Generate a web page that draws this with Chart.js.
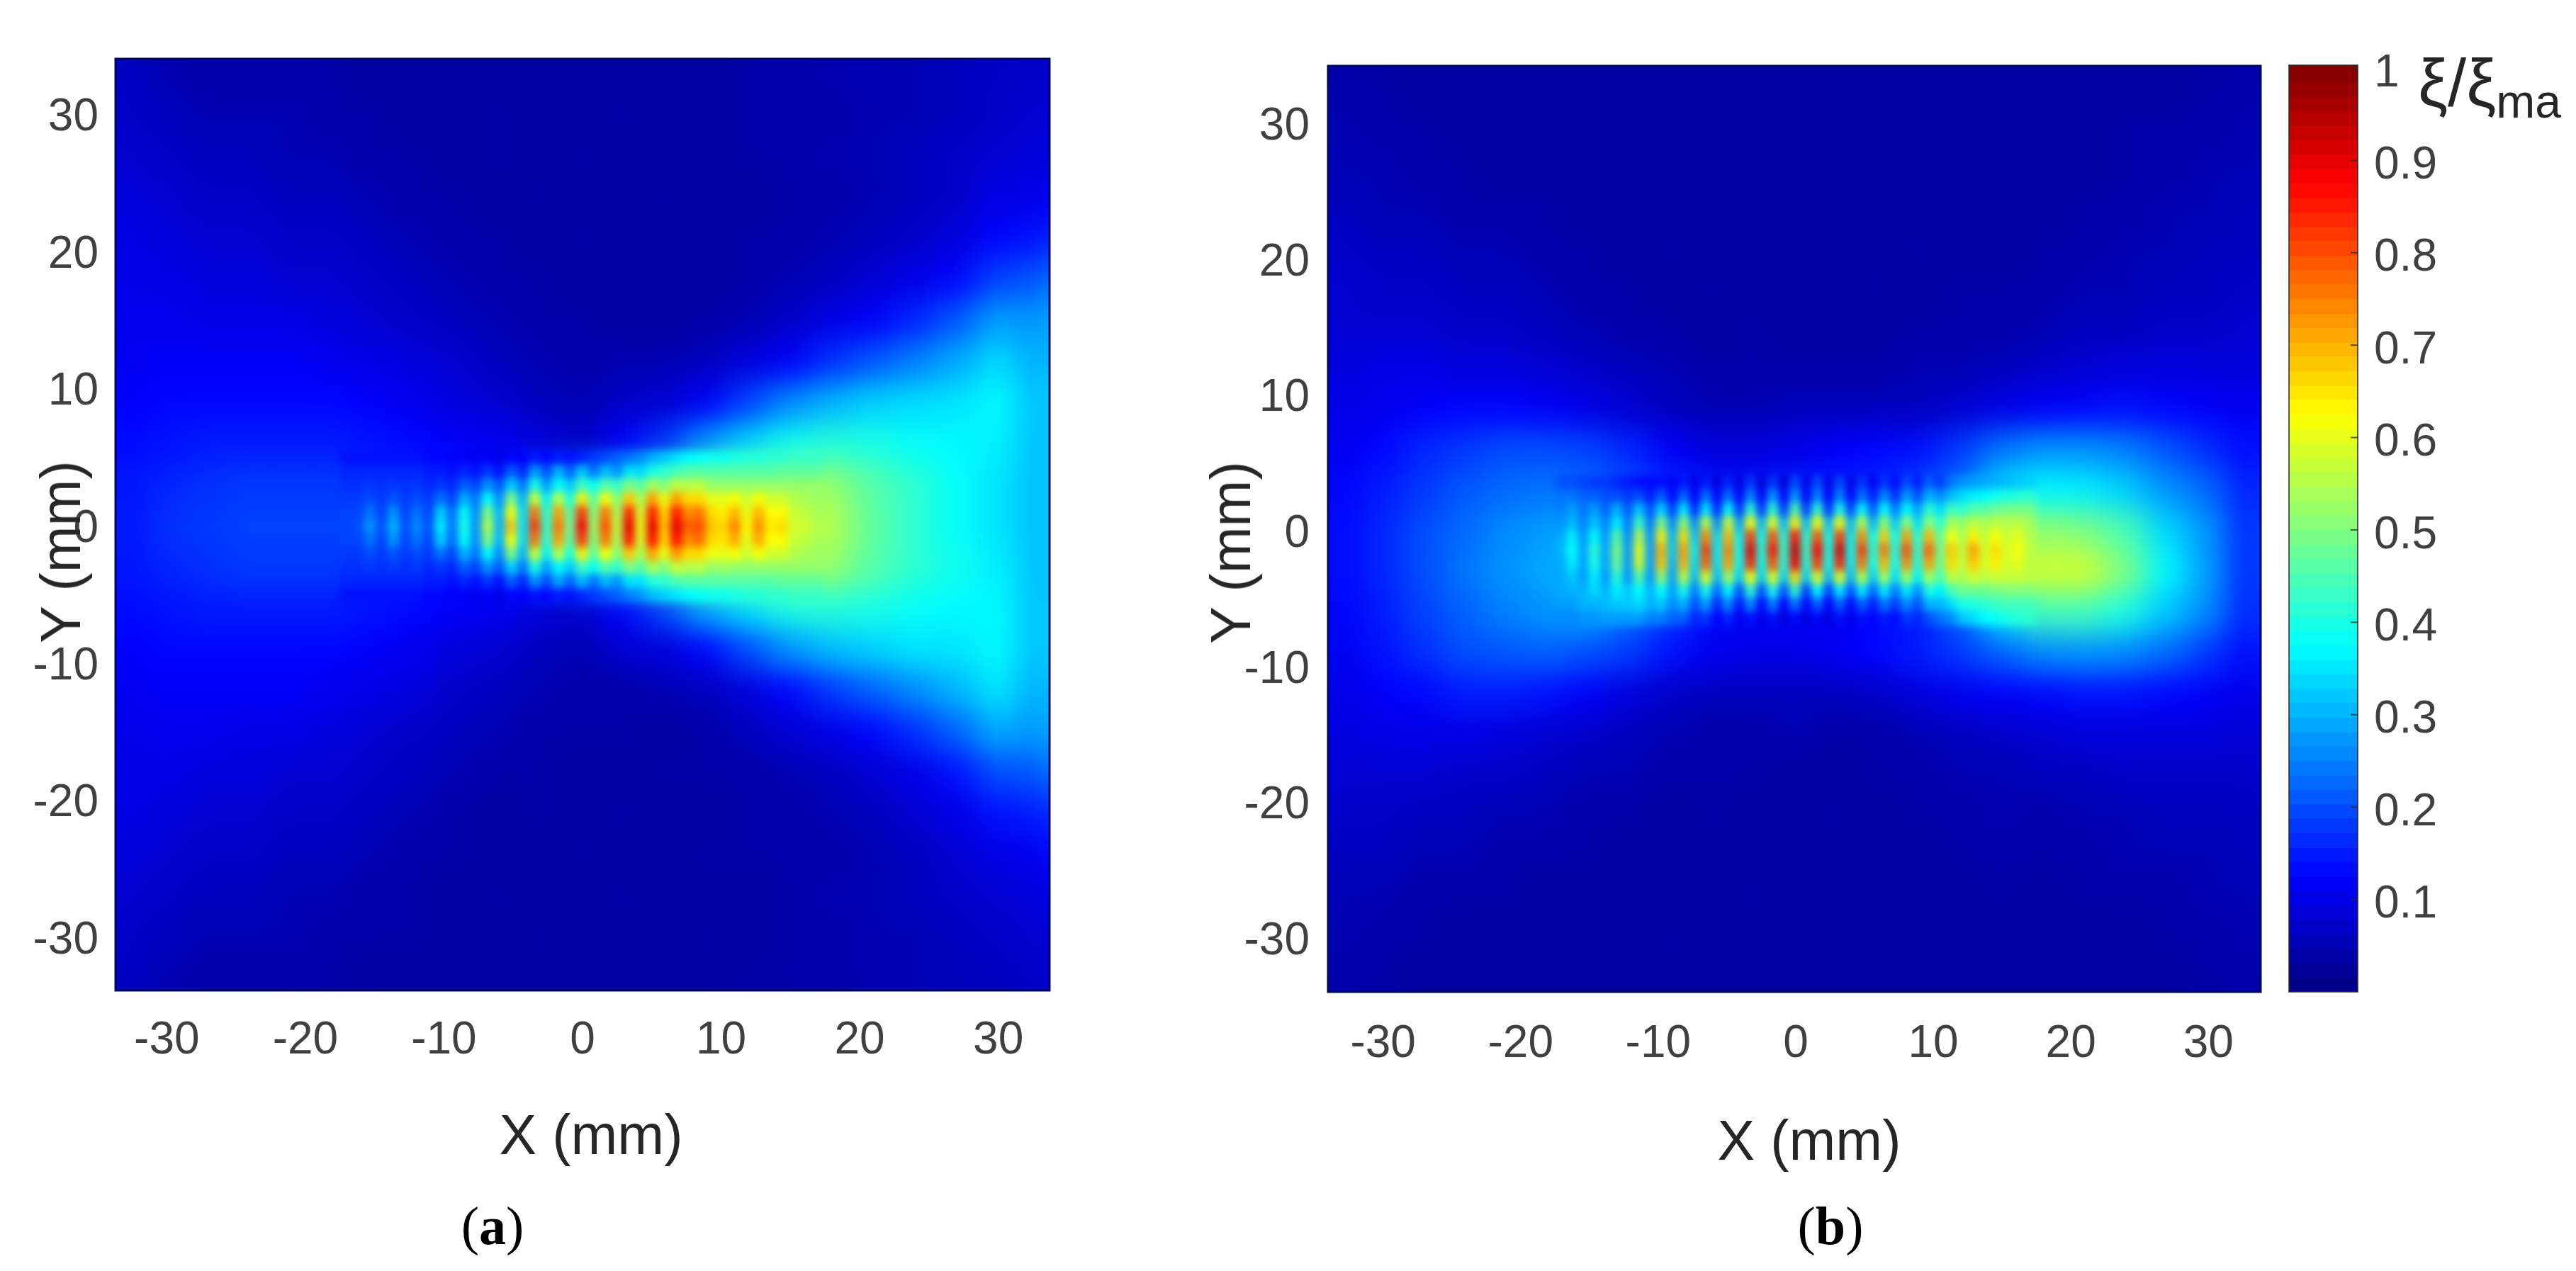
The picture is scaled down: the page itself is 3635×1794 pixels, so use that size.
<!DOCTYPE html>
<html>
<head>
<meta charset="utf-8">
<title>Field maps</title>
<script src="https://cdn.jsdelivr.net/npm/chart.js@4/dist/chart.umd.min.js"></script>
<style>
    html, body { margin: 0; background: #fff; width: 3635px; height: 1794px; overflow: hidden; }
    canvas { position: absolute; }
    .lbl { position: absolute; transform: translate(-50%, -50%); white-space: nowrap; color: #262626;
           font-family: "Liberation Sans", Arial, sans-serif; font-size: 79px; }
    .lbl.rot { transform: translate(-50%, -50%) rotate(-90deg); }
    .cap { color: #000; font-family: "Liberation Serif", serif; font-size: 76px; }
    .cap b { font-weight: bold; }
    sub { font-size: 66px; vertical-align: -16px; }
</style>
</head>
<body>
<canvas id="panelA" width="1490" height="1794" style="left:0;top:0"></canvas>
<canvas id="panelB" width="1550" height="1794" style="left:1650px;top:0"></canvas>
<canvas id="colorBar" width="300" height="1500" style="left:3200px;top:0"></canvas>
<div class="lbl" style="left:834px;top:1602px">X (mm)</div>
<div class="lbl rot" style="left:86px;top:779px">Y (mm)</div>
<div class="lbl" style="left:2553px;top:1610px">X (mm)</div>
<div class="lbl rot" style="left:1737px;top:780px">Y (mm)</div>
<div class="lbl cap" style="left:695px;top:1730px">(<b>a</b>)</div>
<div class="lbl cap" style="left:2583px;top:1730px">(<b>b</b>)</div>
<div class="lbl" style="left:3513px;top:122px;font-size:94px">ξ/ξ<sub>ma</sub></div>
<script>
const tickValues = [-30, -20, -10, 0, 10, 20, 30];
const barTicks = [0.1, 0.2, 0.3, 0.4, 0.5, 0.6, 0.7, 0.8, 0.9, 1];

// far field, percent of max, read on a 3 mm grid
const farX = [-33, -30, -27, -24, -21, -18, -15, -12, -9, -6, -3, 0, 3, 6, 9, 12, 15, 18, 21, 24, 27, 30, 33];
const farY = [33, 30, 27, 24, 21, 18, 15, 12, 9, 6, 3, 0, -3, -6, -9, -12, -15, -18, -21, -24, -27, -30, -33];

const farA = [
    [7, 5, 4, 4, 4, 4, 3, 3, 3, 3, 3, 3, 3, 3, 3, 4, 4, 5, 5, 5, 6, 7, 7],
    [7, 6, 5, 5, 5, 4, 4, 3, 3, 4, 3, 3, 4, 3, 3, 4, 4, 4, 5, 5, 6, 7, 8],
    [8, 7, 6, 6, 5, 5, 4, 4, 3, 4, 3, 4, 3, 3, 3, 4, 4, 5, 5, 6, 7, 8, 9],
    [9, 8, 7, 7, 6, 6, 5, 4, 4, 3, 4, 3, 3, 4, 3, 3, 4, 4, 5, 6, 7, 10, 10],
    [10, 9, 8, 8, 7, 7, 6, 5, 4, 4, 3, 4, 3, 3, 3, 4, 4, 5, 6, 7, 9, 13, 14],
    [10, 10, 9, 9, 8, 8, 7, 6, 5, 4, 4, 3, 3, 3, 3, 4, 5, 6, 8, 10, 13, 19, 21],
    [11, 11, 10, 10, 10, 9, 8, 7, 6, 5, 4, 4, 3, 3, 4, 5, 7, 10, 12, 16, 21, 28, 27],
    [11, 12, 12, 12, 12, 11, 10, 9, 8, 6, 5, 4, 5, 5, 6, 9, 12, 17, 21, 25, 29, 34, 29],
    [12, 13, 13, 13, 13, 13, 12, 11, 9, 8, 6, 5, 7, 8, 12, 19, 26, 30, 33, 34, 35, 37, 31],
    [13, 14, 15, 15, 15, 15, 14, 13, 12, 11, 9, 7, 12, 18, 28, 34, 39, 41, 40, 38, 37, 36, 31],
    [14, 16, 17, 18, 18, 18, 17, 16, 16, 17, 22, 32, 42, 50, 55, 58, 56, 52, 46, 42, 38, 35, 31],
    [14, 17, 18, 19, 19, 19, 20, 20, 22, 30, 45, 60, 65, 70, 72, 70, 62, 55, 47, 42, 38, 35, 31],
    [14, 16, 17, 18, 18, 18, 17, 16, 16, 18, 24, 33, 43, 52, 56, 58, 56, 52, 46, 42, 39, 36, 31],
    [13, 14, 15, 15, 15, 15, 14, 13, 12, 11, 9, 8, 13, 20, 30, 35, 40, 41, 40, 38, 37, 37, 31],
    [12, 13, 13, 13, 13, 13, 12, 11, 9, 8, 6, 5, 8, 9, 13, 20, 27, 31, 33, 35, 35, 37, 31],
    [11, 12, 12, 12, 12, 11, 10, 9, 7, 6, 5, 4, 4, 5, 6, 9, 13, 18, 22, 26, 30, 35, 29],
    [10, 11, 11, 10, 10, 9, 8, 7, 6, 5, 4, 4, 4, 3, 4, 6, 8, 10, 13, 17, 22, 29, 27],
    [10, 10, 9, 9, 8, 8, 7, 6, 5, 4, 4, 3, 3, 4, 4, 4, 5, 6, 8, 10, 14, 20, 21],
    [10, 9, 8, 8, 7, 7, 6, 5, 4, 3, 4, 3, 4, 3, 3, 4, 4, 5, 6, 8, 10, 14, 15],
    [9, 8, 7, 7, 6, 6, 5, 4, 4, 3, 3, 4, 3, 3, 4, 4, 4, 4, 5, 6, 8, 10, 11],
    [8, 7, 6, 6, 5, 5, 4, 4, 3, 4, 3, 3, 4, 3, 3, 3, 4, 5, 5, 6, 7, 8, 9],
    [7, 6, 5, 5, 5, 4, 4, 4, 3, 3, 4, 3, 3, 3, 4, 3, 4, 4, 5, 5, 6, 7, 8],
    [7, 5, 4, 4, 4, 4, 3, 3, 3, 3, 3, 3, 3, 3, 3, 4, 4, 4, 5, 5, 6, 6, 7]
];

const farB = [
    [4, 4, 3, 3, 3, 3, 3, 3, 3, 3, 3, 3, 3, 3, 3, 3, 3, 3, 3, 3, 3, 4, 4],
    [5, 4, 4, 3, 3, 3, 3, 3, 3, 3, 3, 3, 3, 3, 3, 3, 3, 3, 3, 4, 4, 4, 5],
    [5, 5, 4, 4, 3, 3, 3, 3, 3, 3, 3, 3, 3, 3, 3, 3, 3, 3, 3, 4, 4, 5, 5],
    [6, 5, 5, 4, 4, 4, 3, 3, 3, 3, 3, 3, 3, 3, 3, 3, 3, 3, 4, 4, 5, 5, 6],
    [7, 6, 6, 5, 5, 4, 4, 3, 4, 3, 3, 3, 3, 3, 4, 3, 3, 4, 4, 5, 5, 6, 6],
    [8, 7, 7, 6, 6, 5, 4, 4, 3, 4, 3, 3, 3, 4, 3, 4, 4, 4, 5, 5, 6, 6, 7],
    [8, 8, 8, 7, 7, 6, 5, 4, 4, 3, 4, 3, 3, 3, 4, 4, 4, 5, 6, 6, 7, 7, 8],
    [9, 10, 10, 9, 9, 8, 7, 6, 5, 4, 4, 4, 4, 4, 5, 5, 6, 7, 8, 9, 9, 9, 9],
    [10, 11, 12, 13, 13, 12, 10, 8, 6, 5, 5, 6, 6, 6, 6, 8, 10, 12, 13, 14, 13, 12, 11],
    [11, 13, 16, 18, 20, 20, 19, 16, 12, 9, 9, 10, 12, 13, 14, 18, 24, 27, 27, 25, 21, 17, 13],
    [12, 15, 18, 21, 23, 24, 23, 20, 16, 14, 14, 15, 15, 16, 19, 24, 35, 37, 36, 33, 27, 23, 15],
    [13, 16, 20, 23, 26, 28, 29, 28, 26, 26, 27, 28, 28, 30, 33, 38, 46, 52, 50, 45, 34, 27, 16],
    [13, 16, 20, 24, 27, 29, 32, 35, 40, 45, 50, 52, 52, 52, 52, 52, 56, 58, 58, 50, 37, 28, 16],
    [12, 15, 19, 22, 25, 27, 29, 24, 18, 13, 12, 12, 12, 13, 15, 22, 36, 44, 44, 40, 32, 26, 15],
    [11, 14, 17, 20, 21, 22, 20, 18, 14, 11, 10, 10, 11, 13, 15, 18, 22, 26, 27, 26, 23, 18, 13],
    [10, 12, 13, 15, 15, 14, 12, 9, 7, 6, 6, 6, 6, 7, 9, 11, 12, 13, 14, 14, 13, 12, 10],
    [9, 10, 10, 10, 9, 8, 7, 6, 5, 4, 4, 5, 4, 4, 5, 6, 7, 8, 9, 9, 9, 9, 8],
    [8, 8, 8, 7, 7, 6, 5, 5, 4, 4, 4, 3, 3, 4, 4, 5, 5, 6, 6, 7, 7, 7, 7],
    [7, 7, 6, 6, 5, 5, 4, 4, 3, 4, 3, 3, 4, 3, 4, 4, 5, 4, 5, 5, 6, 6, 6],
    [6, 6, 5, 5, 4, 4, 4, 3, 3, 3, 3, 3, 3, 3, 3, 4, 4, 4, 4, 5, 5, 5, 6],
    [5, 5, 4, 4, 4, 3, 3, 3, 3, 3, 4, 3, 3, 3, 3, 3, 4, 3, 4, 4, 4, 5, 5],
    [5, 4, 4, 3, 3, 3, 3, 3, 4, 3, 3, 3, 3, 3, 3, 3, 3, 3, 3, 3, 4, 4, 5],
    [4, 4, 3, 3, 3, 3, 3, 3, 3, 3, 3, 3, 3, 3, 3, 3, 3, 3, 3, 3, 3, 4, 4]
];

// fringe strip around the axis, finer grid
const stripXA = [-17, -16.15, -15.3, -14.45, -13.6, -12.75, -11.9, -11.05, -10.2, -9.35, -8.5, -7.65, -6.8, -5.95, -5.1, -4.25, -3.4, -2.55, -1.7, -0.85, 0, 0.85, 1.7, 2.55, 3.4, 4.25, 5.1, 5.95, 6.8, 7.65, 8.5, 9.35, 10.2, 11.05, 11.9, 12.75, 13.6, 14.45, 15.3, 16.15, 17];
const stripYA = [5, 4, 3, 2, 1, 0, -1, -2, -3, -4, -5];
const stripA = [
    [14, 14, 14, 14, 14, 14, 14, 13, 13, 12, 12, 11, 12, 10, 13, 12, 15, 13, 15, 14, 16, 18, 20, 22, 24, 26, 30, 32, 35, 37, 38, 39, 39, 40, 41, 41, 42, 42, 43, 43, 43],
    [16, 16, 16, 16, 16, 16, 16, 15, 15, 14, 16, 14, 18, 14, 22, 16, 28, 20, 30, 22, 32, 24, 31, 27, 35, 34, 40, 42, 44, 46, 46, 46, 46, 46, 46, 46, 46, 47, 47, 47, 47],
    [17, 17, 18, 17, 18, 17, 18, 16, 18, 16, 22, 19, 27, 21, 33, 24, 40, 28, 38, 32, 44, 38, 46, 42, 50, 46, 54, 50, 56, 55, 56, 52, 52, 52, 52, 52, 52, 52, 52, 52, 52],
    [18, 18, 20, 18, 21, 18, 20, 18, 24, 19, 30, 24, 38, 26, 50, 30, 58, 36, 56, 40, 64, 46, 62, 50, 68, 54, 72, 60, 72, 66, 66, 60, 60, 62, 57, 62, 58, 58, 55, 54, 53],
    [19, 19, 24, 19, 27, 19, 24, 19, 33, 23, 38, 26, 50, 30, 62, 34, 76, 41, 72, 46, 82, 50, 76, 54, 84, 58, 85, 66, 85, 74, 76, 66, 64, 70, 60, 70, 62, 63, 57, 56, 54],
    [19, 20, 27, 20, 30, 20, 26, 20, 36, 24, 40, 27, 55, 30, 68, 35, 82, 42, 76, 48, 88, 52, 80, 56, 90, 60, 90, 68, 90, 78, 80, 68, 66, 75, 62, 74, 64, 66, 58, 58, 55],
    [19, 19, 24, 19, 27, 19, 24, 19, 33, 23, 38, 26, 50, 30, 62, 34, 76, 41, 72, 46, 82, 50, 76, 54, 85, 58, 86, 66, 86, 74, 77, 66, 65, 71, 60, 71, 62, 63, 57, 56, 54],
    [18, 18, 20, 18, 21, 18, 20, 18, 24, 19, 30, 24, 38, 26, 50, 30, 58, 36, 56, 40, 64, 46, 62, 50, 68, 54, 72, 60, 73, 66, 66, 61, 60, 62, 57, 62, 58, 58, 55, 54, 53],
    [17, 17, 18, 17, 18, 17, 18, 16, 18, 16, 22, 19, 27, 21, 33, 24, 40, 28, 38, 32, 44, 38, 46, 42, 50, 46, 54, 50, 57, 55, 56, 52, 53, 52, 52, 52, 52, 52, 52, 52, 52],
    [16, 16, 16, 16, 16, 16, 16, 15, 15, 14, 16, 14, 18, 14, 22, 16, 27, 20, 29, 22, 31, 24, 31, 27, 35, 35, 41, 42, 45, 46, 46, 46, 46, 46, 46, 46, 46, 47, 47, 47, 47],
    [14, 14, 14, 14, 14, 14, 14, 13, 13, 12, 12, 11, 12, 10, 13, 12, 14, 13, 15, 14, 16, 18, 20, 22, 25, 27, 31, 33, 35, 37, 38, 39, 39, 40, 41, 41, 42, 42, 43, 43, 43]
];

const stripXB = [-17.01, -16.2, -15.39, -14.58, -13.77, -12.96, -12.15, -11.34, -10.53, -9.72, -8.91, -8.1, -7.29, -6.48, -5.67, -4.86, -4.05, -3.24, -2.43, -1.62, -0.81, 0, 0.81, 1.62, 2.43, 3.24, 4.05, 4.86, 5.67, 6.48, 7.29, 8.1, 8.91, 9.72, 10.53, 11.34, 12.15, 12.96, 13.77, 14.58, 15.39, 16.2, 17.01];
const stripYB = [3.6, 2.6, 1.6, 0.6, -0.4, -1.4, -2.4, -3.4, -4.4, -5.4, -6.4];
const stripB = [
    [20, 20, 19, 18, 18, 16, 15, 14, 13, 14, 12, 15, 10, 15, 9, 16, 9, 18, 9, 18, 9, 20, 10, 20, 10, 20, 10, 18, 11, 18, 13, 20, 15, 22, 18, 24, 27, 28, 29, 30, 31, 32, 33],
    [24, 24, 22, 22, 20, 20, 18, 20, 15, 22, 13, 23, 12, 24, 12, 24, 12, 26, 12, 28, 12, 28, 12, 26, 12, 26, 13, 24, 15, 26, 17, 28, 20, 30, 26, 31, 34, 36, 37, 39, 40, 41, 42],
    [25, 28, 24, 28, 22, 30, 21, 32, 20, 34, 18, 36, 16, 36, 16, 38, 17, 42, 18, 42, 18, 45, 18, 42, 17, 40, 19, 38, 21, 38, 24, 38, 28, 42, 34, 44, 42, 46, 46, 48, 49, 49, 49],
    [27, 31, 25, 32, 25, 36, 24, 44, 24, 50, 26, 52, 26, 56, 26, 58, 28, 62, 30, 60, 30, 64, 30, 62, 30, 62, 30, 56, 30, 52, 32, 52, 34, 52, 42, 54, 52, 56, 54, 56, 55, 56, 54],
    [29, 36, 27, 38, 27, 46, 26, 55, 27, 64, 30, 66, 32, 74, 34, 70, 36, 82, 38, 80, 40, 86, 40, 80, 38, 82, 36, 74, 38, 68, 38, 72, 40, 70, 46, 62, 54, 64, 56, 62, 57, 60, 55],
    [30, 38, 28, 42, 28, 50, 27, 60, 28, 70, 32, 72, 36, 82, 36, 75, 38, 90, 40, 86, 42, 93, 42, 88, 40, 91, 38, 82, 40, 76, 40, 80, 42, 78, 48, 68, 56, 72, 58, 66, 58, 62, 56],
    [29, 36, 28, 40, 28, 48, 27, 58, 28, 68, 30, 70, 34, 78, 35, 72, 37, 84, 38, 80, 40, 88, 40, 82, 38, 84, 36, 76, 38, 70, 38, 74, 40, 72, 47, 66, 56, 68, 58, 64, 58, 60, 56],
    [29, 32, 28, 36, 27, 42, 27, 46, 27, 52, 28, 56, 30, 60, 30, 54, 32, 62, 32, 60, 32, 66, 32, 60, 30, 60, 30, 56, 32, 54, 34, 54, 36, 54, 44, 56, 54, 58, 56, 57, 57, 57, 56],
    [29, 30, 30, 34, 30, 36, 32, 38, 30, 38, 28, 40, 24, 40, 22, 38, 20, 42, 20, 40, 20, 42, 18, 38, 18, 36, 20, 36, 22, 36, 24, 36, 26, 40, 36, 44, 48, 48, 48, 49, 50, 50, 50],
    [28, 28, 30, 30, 31, 32, 32, 34, 30, 32, 26, 30, 20, 28, 16, 26, 14, 26, 13, 25, 12, 24, 12, 22, 12, 22, 13, 22, 15, 24, 18, 26, 20, 30, 30, 34, 40, 40, 42, 43, 44, 44, 44],
    [26, 26, 27, 27, 28, 28, 28, 28, 25, 25, 22, 22, 16, 18, 12, 16, 11, 14, 10, 14, 9, 13, 9, 13, 9, 14, 10, 14, 12, 15, 13, 18, 16, 20, 24, 26, 32, 34, 37, 38, 40, 41, 42]
];

const barLevels = [0, 0.016, 0.031, 0.047, 0.063, 0.078, 0.094, 0.109, 0.125, 0.141, 0.156, 0.172, 0.188, 0.203, 0.219, 0.234, 0.25, 0.266, 0.281, 0.297, 0.313, 0.328, 0.344, 0.359, 0.375, 0.391, 0.406, 0.422, 0.438, 0.453, 0.469, 0.484, 0.5, 0.516, 0.531, 0.547, 0.563, 0.578, 0.594, 0.609, 0.625, 0.641, 0.656, 0.672, 0.688, 0.703, 0.719, 0.734, 0.75, 0.766, 0.781, 0.797, 0.813, 0.828, 0.844, 0.859, 0.875, 0.891, 0.906, 0.922, 0.938, 0.953, 0.969, 0.984];

const tickFont = { family: '"Liberation Sans", Arial, sans-serif', size: 64 };
const tickColor = '#404040';

function jet(v) {
    const c = k => Math.round(255 * Math.max(0, Math.min(1, 1.5 - Math.abs(4 * v - k))));
    return `rgb(${c(3)},${c(2)},${c(1)})`;
}

function cellData(xs, ys, rows, h) {
    const data = [], colors = [];
    rows.forEach((row, r) => row.forEach((v, c) => {
        data.push({ x: xs[c], y: [ys[r] - h / 2, ys[r] + h / 2] });
        colors.push(jet(v / 100));
    }));
    return { data, colors };
}

// soften the cells already on the canvas, chart area only
function blurArea(chart, px) {
    const a = chart.chartArea, w = a.right - a.left, h = a.bottom - a.top, p = px * 3;
    const tmp = document.createElement('canvas');
    tmp.width = w + 2 * p;
    tmp.height = h + 2 * p;
    const t = tmp.getContext('2d');
    t.drawImage(chart.canvas, a.left, a.top, w, h, 0, 0, tmp.width, tmp.height);
    t.drawImage(chart.canvas, a.left, a.top, w, h, p, p, w, h);
    const ctx = chart.ctx;
    ctx.save();
    ctx.beginPath();
    ctx.rect(a.left, a.top, w, h);
    ctx.clip();
    ctx.filter = `blur(${px}px)`;
    ctx.drawImage(tmp, a.left - p, a.top - p);
    ctx.restore();
}

const softCells = {
    id: 'softCells',
    afterDatasetDraw(chart, args) {
        blurArea(chart, chart.data.datasets[args.index].soft);
    },
    afterDatasetsDraw(chart) {
        const a = chart.chartArea, ctx = chart.ctx;
        ctx.save();
        ctx.strokeStyle = '#00085e';
        ctx.lineWidth = 3;
        ctx.strokeRect(a.left, a.top, a.right - a.left, a.bottom - a.top);
        ctx.restore();
    }
};

function drawPanel(id, p) {
    const far = cellData(farX, farY, p.far, 3.05);
    const strip = cellData(p.stripX, p.stripY, p.strip, 1.02);
    new Chart(document.getElementById(id), {
        type: 'bar',
        data: {
            datasets: [
                { data: strip.data, backgroundColor: strip.colors, barThickness: p.stripW, grouped: false, borderWidth: 0, soft: 6 },
                { data: far.data, backgroundColor: far.colors, barThickness: 62, grouped: false, borderWidth: 0, soft: 20 }
            ]
        },
        options: {
            responsive: false,
            animation: false,
            events: [],
            layout: { autoPadding: false, padding: { top: p.top, right: p.right } },
            plugins: { legend: { display: false }, tooltip: { enabled: false } },
            scales: {
                x: {
                    type: 'linear', offset: false, min: p.xMin, max: p.xMax,
                    grid: { display: false }, border: { display: false },
                    afterBuildTicks: s => { s.ticks = tickValues.map(v => ({ value: v })); },
                    afterFit: s => { s.height = p.xHeight; },
                    ticks: { font: tickFont, color: tickColor, padding: p.xPad, maxRotation: 0, autoSkip: false }
                },
                y: {
                    type: 'linear', min: p.yMin, max: p.yMax,
                    grid: { display: false }, border: { display: false },
                    afterBuildTicks: s => { s.ticks = tickValues.map(v => ({ value: v })); },
                    afterFit: s => { s.width = p.yWidth; },
                    ticks: { font: tickFont, color: tickColor, padding: p.yPad, labelOffset: 4, autoSkip: false }
                }
            }
        },
        plugins: [softCells]
    });
}

drawPanel('panelA', {
    far: farA, strip: stripA, stripX: stripXA, stripY: stripYA, stripW: 18,
    xMin: -33.7, xMax: 33.7, yMin: -33.8, yMax: 34.1,
    top: 83, right: 9, xHeight: 396, yWidth: 163, xPad: 25, yPad: 16
});
drawPanel('panelB', {
    far: farB, strip: stripB, stripX: stripXB, stripY: stripYB, stripW: 17,
    xMin: -34, xMax: 33.8, yMin: -33.9, yMax: 34.3,
    top: 93, right: 10, xHeight: 394, yWidth: 224, xPad: 28, yPad: 18
});

// colour bar
new Chart(document.getElementById('colorBar'), {
    type: 'bar',
    data: {
        datasets: [{
            data: barLevels.map(l => ({ x: 0, y: [l, l + 0.0195] })),
            backgroundColor: barLevels.map(l => jet(l + 0.008)),
            barThickness: 97, grouped: false, borderWidth: 0
        }]
    },
    options: {
        responsive: false,
        animation: false,
        events: [],
        layout: { autoPadding: false, padding: { left: 30, top: 92, bottom: 100 } },
        plugins: { legend: { display: false }, tooltip: { enabled: false } },
        scales: {
            x: { type: 'linear', offset: false, min: -1, max: 1, display: false },
            y: {
                type: 'linear', position: 'right', min: 0, max: 1.003,
                grid: { display: false }, border: { display: false },
                afterBuildTicks: s => { s.ticks = barTicks.map(v => ({ value: v })); },
                afterFit: s => { s.width = 173; },
                ticks: { font: tickFont, color: tickColor, padding: 15, labelOffset: 8, autoSkip: false, callback: v => String(v) }
            }
        }
    },
    plugins: [{
        id: 'barTicks',
        afterDatasetsDraw(chart) {
            const a = chart.chartArea, ctx = chart.ctx, y = chart.scales.y;
            ctx.save();
            ctx.strokeStyle = 'rgba(40,40,40,0.75)';
            ctx.lineWidth = 2;
            ctx.strokeRect(a.left, a.top, a.right - a.left, a.bottom - a.top);
            barTicks.forEach(v => {
                const py = y.getPixelForValue(v);
                ctx.beginPath();
                ctx.moveTo(a.right - 10, py);
                ctx.lineTo(a.right, py);
                ctx.stroke();
            });
            ctx.restore();
        }
    }]
});
</script>
</body>
</html>
